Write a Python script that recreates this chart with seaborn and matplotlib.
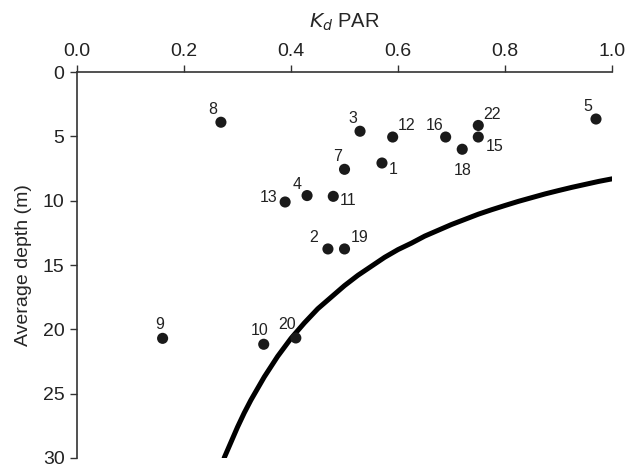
import numpy as np
import pandas as pd
import matplotlib
matplotlib.use("Agg")
import matplotlib.pyplot as plt
import seaborn as sns

sns.set_theme(style="white")
plt.rcParams['font.family'] = ['Liberation Sans', 'DejaVu Sans']

# site data
site = ['1', '2', '3', '4', '5', '7', '8', '9', '10', '11', '12',
        '13', '15', '16', '18', '19', '20', '22']
kd = [0.570, 0.469, 0.529, 0.430, 0.970, 0.500, 0.269, 0.160, 0.349, 0.479, 0.590,
      0.389, 0.750, 0.689, 0.720, 0.500, 0.409, 0.750]
depth = [7.07, 13.75, 4.6, 9.6, 3.65, 7.56, 3.9, 20.7, 21.16, 9.66, 5.05,
         10.1, 5.05, 5.05, 6.0, 13.75, 20.67, 4.15]
# label offsets (points)
offx = [8, -10, -5, -7, -6, -5, -6, -2, -3, 11, 10, -12, 12, -8, 0, 11, -6, 10]
offy = [-5, 8, 9, 8, 9, 9, 9, 10, 10, -3, 8, 3, -7, 8, -15, 8, 10, 8]

# curve
curve_kd = [0.275, 0.2875, 0.30, 0.3125, 0.325, 0.3375, 0.35, 0.3625, 0.375,
            0.3875, 0.40, 0.425, 0.45, 0.475, 0.50, 0.525, 0.55, 0.575, 0.60,
            0.625, 0.65, 0.675, 0.70, 0.725, 0.75, 0.775, 0.80, 0.825, 0.85,
            0.875, 0.90, 0.925, 0.95, 0.975, 1.00]
curve_depth = [30.0, 28.8, 27.6, 26.5, 25.5, 24.6, 23.7, 22.9, 22.1,
               21.4, 20.7, 19.5, 18.4, 17.5, 16.6, 15.8, 15.1, 14.4, 13.8,
               13.3, 12.75, 12.3, 11.85, 11.45, 11.05, 10.7, 10.37, 10.05, 9.76,
               9.47, 9.21, 8.96, 8.73, 8.5, 8.3]

df = pd.DataFrame({'kd': kd, 'depth': depth, 'site': site})
cdf = pd.DataFrame({'kd': curve_kd, 'depth': curve_depth})

fig = plt.figure(figsize=(6.28, 4.68), dpi=100)
ax = fig.add_axes([0.1226, 0.0214, 0.852, 0.8246])

sns.lineplot(data=cdf, x='kd', y='depth', ax=ax, color='black', lw=3.6, sort=False)
sns.scatterplot(data=df, x='kd', y='depth', ax=ax, color='#1a1a1a', s=64,
                edgecolor='none', zorder=3)
for s, x, y, dx, dy in zip(site, kd, depth, offx, offy):
    ax.annotate(s, (x, y), xytext=(dx, dy), textcoords='offset points',
                ha='center', va='center', fontsize=11.5, color='#222222')

ax.set_xlim(0, 1.0)
ax.set_ylim(30, 0)
ax.xaxis.tick_top()
ax.xaxis.set_label_position('top')
ax.set_xticks(np.arange(0, 1.01, 0.2))
ax.set_xticklabels(['0.0', '0.2', '0.4', '0.6', '0.8', '1.0'])
ax.set_yticks(range(0, 31, 5))
ax.set_xlabel('$K_d$ PAR', fontsize=14.5, labelpad=11)
ax.set_ylabel('Average depth (m)', fontsize=14, labelpad=8)
ax.tick_params(axis='both', labelsize=14, length=5, width=1, direction='out',
               colors='#333333', labelcolor='#222222')
ax.tick_params(axis='x', top=True, bottom=False, pad=4)
ax.tick_params(axis='y', left=True, pad=4)
for side in ['right', 'bottom']:
    ax.spines[side].set_visible(False)
for side in ['top', 'left']:
    ax.spines[side].set_color('#333333')
    ax.spines[side].set_linewidth(1.2)

fig.savefig('out.png', dpi=100)
